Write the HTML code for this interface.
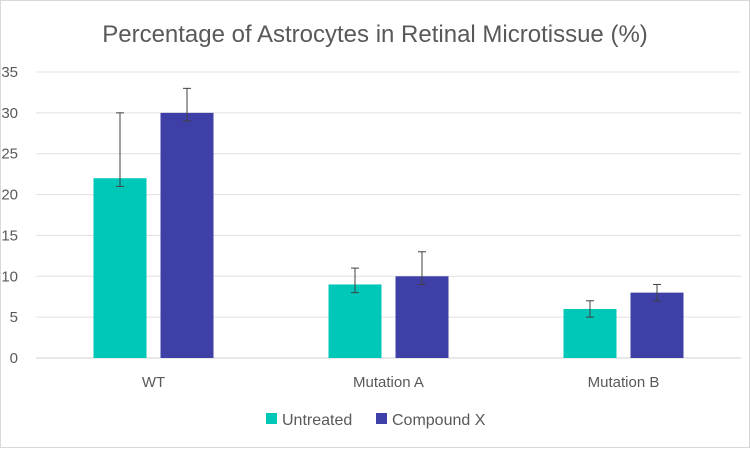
<!DOCTYPE html>
<html><head><meta charset="utf-8"><style>
body{margin:0;background:#fff;}
svg{display:block;font-family:"Liberation Sans",sans-serif;}
</style></head><body>
<svg id="chart" width="750" height="450">
<rect x="0.5" y="0.5" width="749" height="447" fill="#fff" stroke="#d9d9d9"/>
<text x="375" y="42" text-anchor="middle" font-size="24" fill="#595959">Percentage of Astrocytes in Retinal Microtissue (%)</text>
<g id="grid"></g><g id="bars"></g><g id="errs"></g><g id="xlabels"></g>
<g>
<rect x="266" y="413" width="11" height="11" fill="#00C8B8"/>
<text x="282" y="425" font-size="16" fill="#595959">Untreated</text>
<rect x="376" y="413" width="11" height="11" fill="#3F3FA8"/>
<text x="392" y="425" font-size="16" fill="#595959">Compound X</text>
</g>
</svg>
<script>
const categories=["WT","Mutation A","Mutation B"];
const untreated=[22,9,6];
const compoundX=[30,10,8];
const untreatedLow=[21,8,5];
const untreatedHigh=[30,11,7];
const compoundLow=[29,9,7];
const compoundHigh=[33,13,9];
const yTicks=[0,5,10,15,20,25,30,35];
const NS="http://www.w3.org/2000/svg";
const x0=36,x1=741,yBase=358,yTop=72,yMax=35;
const y=v=>yBase-(v/yMax)*(yBase-yTop);
const gw=(x1-x0)/categories.length;
const cx=i=>x0+gw*(i+0.5);
function mk(t,a,p){const e=document.createElementNS(NS,t);for(const k in a)e.setAttribute(k,a[k]);p.appendChild(e);return e;}
const grid=document.getElementById('grid'),bars=document.getElementById('bars'),errs=document.getElementById('errs'),xl=document.getElementById('xlabels');
yTicks.forEach(t=>{
 const l=mk('line',{x1:x0,x2:x1,y1:y(t),y2:y(t),stroke:t===0?'#d0d0d0':'#e0e0e0','stroke-width':1},grid);
 
 
 const tx=mk('text',{x:18,y:y(t)+5,'text-anchor':'end','font-size':15,fill:'#595959'},grid);
 tx.textContent=t;
 
 
});
const bw=53;
function bar(v,lo,hi,xl_,col,name){
 const r=mk('rect',{x:xl_,y:y(v),width:bw,height:yBase-y(v),fill:col},bars);
 
 
 const c=xl_+bw/2;
 const g=mk('g',{stroke:'#404040','stroke-width':1},errs);
 
 
 mk('line',{x1:c,x2:c,y1:y(lo),y2:y(hi)},g);
 mk('line',{x1:c-4,x2:c+4,y1:y(lo),y2:y(lo)},g);
 mk('line',{x1:c-4,x2:c+4,y1:y(hi),y2:y(hi)},g);
}
categories.forEach((c,i)=>{
 bar(untreated[i],untreatedLow[i],untreatedHigh[i],cx(i)-60,'#00C8B8','bar-untreated-'+i);
 bar(compoundX[i],compoundLow[i],compoundHigh[i],cx(i)+7,'#3F3FA8','bar-compound-x-'+i);
 const t=mk('text',{x:cx(i),y:387,'text-anchor':'middle','font-size':15,fill:'#595959'},xl);
 t.textContent=c;
 
 
});
</script>
</body></html>
